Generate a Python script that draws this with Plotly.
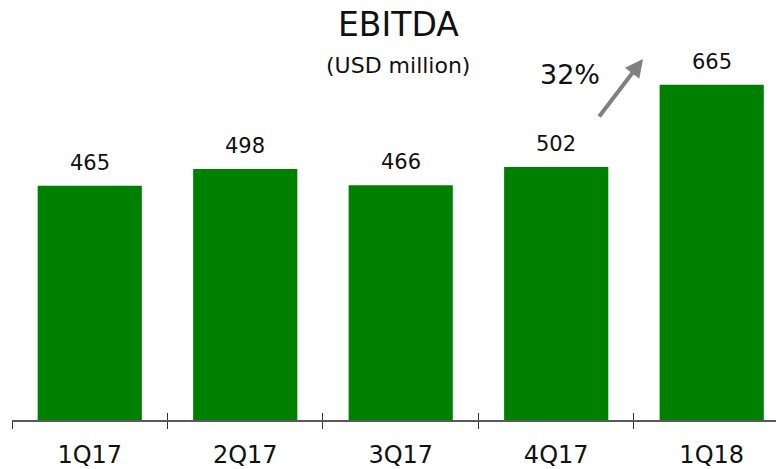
import plotly.graph_objects as go

quarters = ["1Q17", "2Q17", "3Q17", "4Q17", "1Q18"]
ebitda = [465, 498, 466, 502, 665]
growth_label = "32%"

FONT = "DejaVu Sans, Verdana, sans-serif"
BAR_COLOR = "#008000"
AXIS_COLOR = "#595959"

fig = go.Figure()
fig.add_trace(
    go.Bar(
        x=quarters, y=ebitda, width=0.67, marker=dict(color=BAR_COLOR, line=dict(width=0)),
        hoverinfo="x+y", showlegend=False,
    )
)
# 축 위쪽으로 튀어나오는 눈금용 보조 축 (투명 트레이스)
fig.add_trace(
    go.Scatter(
        x=quarters, y=ebitda, xaxis="x2", mode="markers", marker=dict(opacity=0),
        hoverinfo="skip", showlegend=False,
    )
)

for q, v in zip(quarters, ebitda):
    fig.add_annotation(
        x=q, y=v, text=str(v), showarrow=False, yanchor="bottom", yshift=9,
        font=dict(family=FONT, size=21, color="#111111"),
    )

fig.add_annotation(
    x=0.5, y=0.99, xref="paper", yref="paper", xanchor="center", yanchor="middle", height=30,
    text="EBITDA", showarrow=False, font=dict(family=FONT, size=33, color="#111111"),
)
fig.add_annotation(
    x=0.5, y=0.8875, xref="paper", yref="paper", xanchor="center", yanchor="middle",
    text="(USD million)", showarrow=False, font=dict(family=FONT, size=22, color="#111111"),
)
fig.add_annotation(
    x=0.7228, y=0.8625, xref="paper", yref="paper", xanchor="center", yanchor="middle",
    showarrow=False, text=growth_label, font=dict(family=FONT, size=27, color="#111111"),
)
fig.add_annotation(
    x=0.8174, y=0.9025, xref="paper", yref="paper", ax=-45, ay=59, axref="pixel", ayref="pixel",
    text="", showarrow=True, arrowhead=2, arrowsize=0.9, arrowwidth=4, arrowcolor="#808080",
)

# 페이지 body 여백(8px)만큼 줄여서 창 안에 딱 맞춘다
fig.update_layout(
    width=776, height=461,
    margin=dict(l=4, r=0, t=12, b=49, autoexpand=False),
    plot_bgcolor="white", paper_bgcolor="white",
    font=dict(family=FONT, color="#111111"),
    xaxis=dict(
        type="category", range=[-0.5, 4.465], showline=True, linecolor=AXIS_COLOR, linewidth=1.5,
        ticks="outside", tickson="boundaries", ticklen=7, tickcolor="#333333", tickwidth=1.2,
        ticklabelstandoff=12,
        tickfont=dict(family=FONT, size=24, color="#111111"), showgrid=False, zeroline=False,
        fixedrange=True, automargin=False,
    ),
    xaxis2=dict(
        type="category", overlaying="x", anchor="y", matches="x", side="bottom",
        ticks="inside", tickson="boundaries", ticklen=7, tickcolor="#333333", tickwidth=1.2,
        showticklabels=False, showline=False, showgrid=False, zeroline=False, automargin=False,
    ),
    yaxis=dict(range=[0, 793.65], visible=False, showgrid=False, zeroline=False, fixedrange=True,
               automargin=False),
    bargap=0.33,
)

fig.write_html("out.html")
